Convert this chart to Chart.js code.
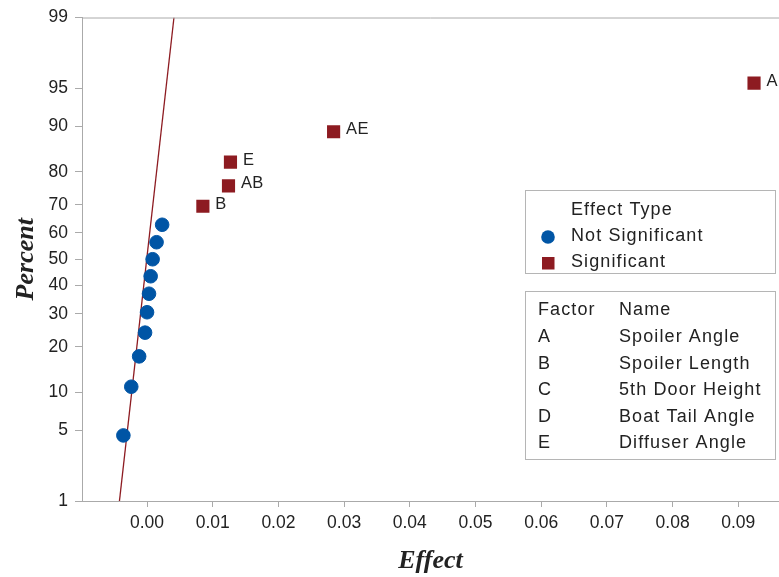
<!DOCTYPE html>
<html>
<head>
<meta charset="utf-8">
<script src="https://cdn.jsdelivr.net/npm/chart.js@4"></script>
<style>
  html, body { margin: 0; padding: 0; background: #fff; }
  #wrap { width: 779px; height: 577px; }
</style>
</head>
<body>
<div id="wrap"><canvas id="chart"></canvas></div>
<script>
// Normal probability plot of the effects
const notSigEffects = [-0.0036, -0.0024, -0.0012, -0.0003, 0.0000, 0.0003, 0.00055, 0.00085, 0.00145, 0.0023];
const notSigPercent = [4.5, 11.0, 17.5, 24.0, 30.5, 37.0, 43.5, 50.0, 56.5, 63.0];

const sigTerms = ["B", "AB", "E", "AE", "A"];
const sigEffects = [0.0085, 0.0124, 0.0127, 0.0284, 0.0924];
const sigPercent = [69.5, 76.0, 82.5, 89.0, 95.5];

// fitted reference line
const fitEffects = [-0.0042, 0.0041];
const fitPercent = [1, 99];

const xTicks = [0, 0.01, 0.02, 0.03, 0.04, 0.05, 0.06, 0.07, 0.08, 0.09];
const yTickPercent = [1, 5, 10, 20, 30, 40, 50, 60, 70, 80, 90, 95, 99];

const factorCodes = ["A", "B", "C", "D", "E"];
const factorNames = ["Spoiler Angle", "Spoiler Length", "5th Door Height", "Boat Tail Angle", "Diffuser Angle"];

const BLUE = "#0055a5";
const RED = "#8d1b21";
const TEXT = "#222";
const AXIS = "#aaaaaa";
const SANS = "'Liberation Sans', Arial, sans-serif";
const SERIF = "'Liberation Serif', 'Times New Roman', serif";

// inverse standard normal cdf (Acklam)
function normInv(p) {
  const a = [-39.69683028665376, 220.9460984245205, -275.9285104469687, 138.3577518672690, -30.66479806614716, 2.506628277459239];
  const b = [-54.47609879822406, 161.5858368580409, -155.6989798598866, 66.80131188771972, -13.28068155288572];
  const c = [-0.007784894002430293, -0.3223964580411365, -2.400758277161838, -2.549732539343734, 4.374664141464968, 2.938163982698783];
  const d = [0.007784695709041462, 0.3224671290700398, 2.445134137142996, 3.754408661907416];
  const pl = 0.02425;
  let q, r;
  if (p < pl) {
    q = Math.sqrt(-2 * Math.log(p));
    return (((((c[0]*q+c[1])*q+c[2])*q+c[3])*q+c[4])*q+c[5]) / ((((d[0]*q+d[1])*q+d[2])*q+d[3])*q+1);
  }
  if (p > 1 - pl) {
    q = Math.sqrt(-2 * Math.log(1 - p));
    return -(((((c[0]*q+c[1])*q+c[2])*q+c[3])*q+c[4])*q+c[5]) / ((((d[0]*q+d[1])*q+d[2])*q+d[3])*q+1);
  }
  q = p - 0.5;
  r = q * q;
  return (((((a[0]*r+a[1])*r+a[2])*r+a[3])*r+a[4])*r+a[5])*q / (((((b[0]*r+b[1])*r+b[2])*r+b[3])*r+b[4])*r+1);
}
const z = pct => normInv(pct / 100);
const pts = (xs, ps) => xs.map((x, i) => ({ x: x, y: z(ps[i]) }));

// the original uses slightly tracked-out text
const spacingPlugin = {
  id: "spacing",
  beforeInit(chart) { chart.ctx.letterSpacing = "1.2px"; }
};

// top frame line + labels on the significant terms + the two legend boxes
const extrasPlugin = {
  id: "extras",
  afterDraw(chart) {
    const ctx = chart.ctx;
    const area = chart.chartArea;
    ctx.save();
    ctx.strokeStyle = AXIS;
    ctx.lineWidth = 1;
    ctx.beginPath();
    ctx.moveTo(area.left, area.top + 0.5);
    ctx.lineTo(area.right, area.top + 0.5);
    ctx.stroke();

    // term labels
    const meta = chart.getDatasetMeta(2);
    ctx.letterSpacing = "0.3px";
    ctx.font = "16.5px " + SANS;
    ctx.fillStyle = TEXT;
    ctx.textBaseline = "middle";
    ctx.textAlign = "left";
    meta.data.forEach((el, i) => {
      ctx.fillText(sigTerms[i], el.x + 12.5, el.y - 2);
    });

    // legend 1
    ctx.letterSpacing = "1.1px";
    ctx.font = "18px " + SANS;
    ctx.strokeStyle = "#b5b5b5";
    ctx.strokeRect(525.5, 190.5, 250, 83);
    ctx.fillStyle = TEXT;
    ctx.fillText("Effect Type", 571, 210);
    ctx.fillText("Not Significant", 571, 236);
    ctx.fillText("Significant", 571, 262);
    ctx.fillStyle = BLUE;
    ctx.beginPath();
    ctx.arc(548, 237, 6.8, 0, Math.PI * 2);
    ctx.fill();
    ctx.fillStyle = RED;
    ctx.fillRect(542, 257, 12.5, 12.5);

    // legend 2
    ctx.strokeRect(525.5, 291.5, 250, 168);
    ctx.fillStyle = TEXT;
    ctx.fillText("Factor", 538, 310);
    ctx.fillText("Name", 619, 310);
    factorCodes.forEach((code, i) => {
      const y = 337 + i * 26.6;
      ctx.fillText(code, 538, y);
      ctx.fillText(factorNames[i], 619, y);
    });
    ctx.restore();
  }
};

new Chart(document.getElementById("chart"), {
  type: "scatter",
  data: {
    datasets: [
      {
        type: "line",
        label: "Fit",
        data: pts(fitEffects, fitPercent),
        borderColor: RED,
        borderWidth: 1.3,
        pointRadius: 0,
        fill: false,
        order: 3
      },
      {
        label: "Not Significant",
        data: pts(notSigEffects, notSigPercent),
        backgroundColor: BLUE,
        borderColor: BLUE,
        pointStyle: "circle",
        pointRadius: 6.8,
        order: 1
      },
      {
        label: "Significant",
        data: pts(sigEffects, sigPercent),
        backgroundColor: RED,
        borderColor: RED,
        pointStyle: "rect",
        pointRadius: 9.3,
        borderWidth: 0,
        order: 2
      }
    ]
  },
  options: {
    responsive: true,
    maintainAspectRatio: false,
    animation: false,
    layout: { autoPadding: false, padding: { top: 15, right: 0, left: 0, bottom: 0 } },
    plugins: {
      legend: { display: false },
      tooltip: { enabled: false }
    },
    scales: {
      x: {
        type: "linear",
        min: -0.0099,
        max: 0.0962,
        afterBuildTicks: s => { s.ticks = xTicks.map(v => ({ value: v })); },
        afterFit: s => { s.height = 76; s.paddingRight = 0; s.paddingLeft = 0; },
        ticks: {
          callback: v => v.toFixed(2),
          font: { family: SANS, size: 17.5 },
          color: TEXT,
          padding: 6,
          maxRotation: 0
        },
        grid: { drawOnChartArea: false, tickLength: 6, color: AXIS },
        border: { color: AXIS },
        title: {
          display: true,
          text: "Effect",
          color: TEXT,
          padding: { top: 1, bottom: 0 },
          font: { family: SERIF, size: 26, style: "italic", weight: "bold" }
        }
      },
      y: {
        type: "linear",
        min: z(1),
        max: z(99),
        afterBuildTicks: s => { s.ticks = yTickPercent.map(p => ({ value: z(p) })); },
        afterFit: s => { s.width = 82; },
        ticks: {
          callback: (v, i) => String(yTickPercent[i]),
          font: { family: SANS, size: 17.5 },
          color: TEXT,
          padding: 7
        },
        grid: { drawOnChartArea: false, tickLength: 7, color: AXIS },
        border: { color: AXIS },
        title: {
          display: true,
          text: "Percent",
          color: TEXT,
          padding: { top: 11, bottom: 0 },
          font: { family: SERIF, size: 26, style: "italic", weight: "bold" }
        }
      }
    }
  },
  plugins: [spacingPlugin, extrasPlugin]
});
</script>
</body>
</html>
